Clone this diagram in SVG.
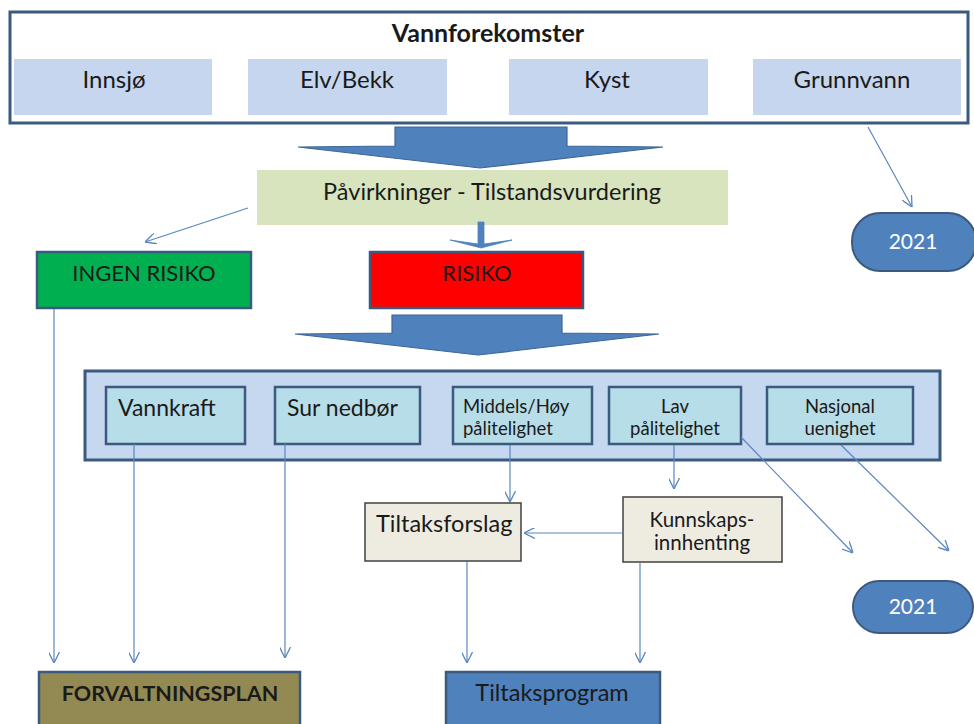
<svg xmlns="http://www.w3.org/2000/svg" width="974" height="724" viewBox="0 0 974 724">
<defs>
<style>
text{font-family:Lato,"Liberation Sans",sans-serif;fill:#1a1a1a}
.sub{fill:#c6d6ee}
.inner{fill:#b7dde8;stroke:#3b5a80;stroke-width:2.5}
.beige{fill:#eeece1;stroke:#404040;stroke-width:1.5}
.pill{fill:#4f81bd;stroke:#3b5a80;stroke-width:2}
.big{fill:#4f81bd;stroke:#3d6796;stroke-width:1.2}
.con{fill:none;stroke:#5b86bd;stroke-width:1.2;marker-end:url(#ah)}
.c{text-anchor:middle}
</style>
<marker id="ah" viewBox="0 0 10 10" refX="10" refY="5" markerWidth="11" markerHeight="11" markerUnits="userSpaceOnUse" orient="auto">
<path d="M0,0 L10,5 L0,10" fill="none" stroke="#5b86bd" stroke-width="1.2"/>
</marker>
</defs>
<rect width="974" height="724" fill="#ffffff"/>

<g id="vannforekomster">
<rect x="10" y="12" width="958" height="111" fill="#ffffff" stroke="#3b5a80" stroke-width="3"/>
<text x="488" y="42" class="c" font-size="25" font-weight="bold">Vannforekomster</text>
</g>
<g id="innsjo"><rect class="sub" x="14" y="59" width="198" height="56"/><text x="114" y="88" class="c" font-size="24">Innsjø</text></g>
<g id="elvbekk"><rect class="sub" x="248" y="59" width="199" height="56"/><text x="347" y="88" class="c" font-size="24">Elv/Bekk</text></g>
<g id="kyst"><rect class="sub" x="509" y="59" width="199" height="56"/><text x="607" y="88" class="c" font-size="24">Kyst</text></g>
<g id="grunnvann"><rect class="sub" x="753" y="59" width="208" height="56"/><text x="852" y="88" class="c" font-size="24">Grunnvann</text></g>

<g id="pavirkninger"><rect x="257" y="170" width="471" height="55" fill="#d7e4bd"/><text x="492" y="200" class="c" font-size="23.5">Påvirkninger - Tilstandsvurdering</text></g>

<g id="ingen-risiko"><rect x="37" y="252" width="214" height="56" fill="#00b050" stroke="#3b5a80" stroke-width="2.5"/><text x="144" y="281" class="c" font-size="22">INGEN RISIKO</text></g>
<g id="risiko"><rect x="370" y="252" width="213" height="56" fill="#ff0000" stroke="#3b5a80" stroke-width="2.5"/><text x="477" y="281" class="c" font-size="22">RISIKO</text></g>

<g id="y2021a"><rect class="pill" x="852" y="213" width="124" height="58" rx="28"/><text x="913" y="249" class="c" font-size="21" style="fill:#ffffff">2021</text></g>

<g id="arsaker">
<rect x="85" y="371" width="855" height="89" fill="#c6d7f0" stroke="#3b5a80" stroke-width="3"/>
</g>
<g id="vannkraft"><rect class="inner" x="106" y="387" width="139" height="57"/><text x="118" y="416" font-size="23">Vannkraft</text></g>
<g id="sur-nedbor"><rect class="inner" x="275" y="387" width="145" height="57"/><text x="287" y="416" font-size="23">Sur nedbør</text></g>
<g id="middels"><rect class="inner" x="453" y="387" width="139" height="57"/><text x="463" y="413" font-size="18.5">Middels/Høy</text><text x="463" y="435" font-size="18.5">pålitelighet</text></g>
<g id="lav"><rect class="inner" x="609" y="387" width="132" height="57"/><text x="675" y="413" class="c" font-size="18.5">Lav</text><text x="675" y="435" class="c" font-size="18.5">pålitelighet</text></g>
<g id="nasjonal"><rect class="inner" x="767" y="387" width="146" height="57"/><text x="840" y="413" class="c" font-size="18.5">Nasjonal</text><text x="840" y="435" class="c" font-size="18.5">uenighet</text></g>

<g id="tiltaksforslag"><rect class="beige" x="365" y="503" width="156" height="58"/><text x="376" y="532" font-size="23.5">Tiltaksforslag</text></g>
<g id="kunnskap"><rect class="beige" x="623" y="497" width="159" height="65"/><text x="702" y="527" class="c" font-size="20.5">Kunnskaps-</text><text x="702" y="550" class="c" font-size="20.5">innhenting</text></g>

<g id="y2021b"><rect class="pill" x="853" y="581" width="120" height="52" rx="26"/><text x="913" y="614" class="c" font-size="21" style="fill:#ffffff">2021</text></g>

<g id="forvaltningsplan"><rect x="39" y="672" width="261" height="60" fill="#938953" stroke="#3b5a80" stroke-width="2.5"/><text x="170" y="701" class="c" font-size="21.5" font-weight="bold">FORVALTNINGSPLAN</text></g>
<g id="tiltaksprogram"><rect x="446" y="672" width="214" height="60" fill="#4f81bd" stroke="#3b5a80" stroke-width="2.5"/><text x="552" y="701" class="c" font-size="23.5">Tiltaksprogram</text></g>

<g id="connectors">
<polygon class="big" points="395,127 567,127 567,146 663,147 480,168 298,147 395,146"/>
<polygon fill="#4f81bd" stroke="#4f81bd" stroke-width="0.8" points="478,222 484,222 484,244 512,240 481,248 450,240 478,244"/>
<polygon class="big" points="392,315 562,315 562,333 659,334 478,355 295,334 392,333"/>
<path class="con" d="M248,208 L145,242"/>
<path class="con" d="M868,127 L912,207"/>
<path class="con" d="M54,309 L54,663"/>
<path class="con" d="M134,444 L134,663"/>
<path class="con" d="M285,444 L285,658"/>
<path class="con" d="M510,445 L510,502"/>
<path class="con" d="M674,445 L674,489"/>
<path class="con" d="M623,533 L524,533"/>
<path class="con" d="M741,437 L853,553"/>
<path class="con" d="M841,445 L949,551"/>
<path class="con" d="M467,562 L467,663"/>
<path class="con" d="M640,563 L640,663"/>
</g>
</svg>
